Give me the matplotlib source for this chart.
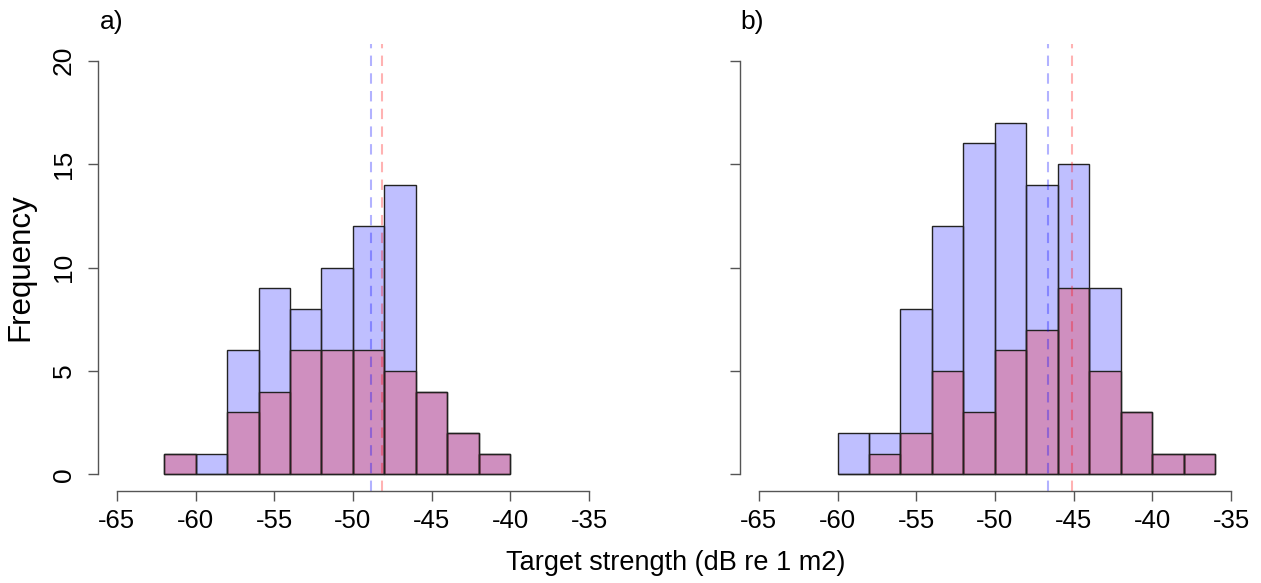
import numpy as np
import matplotlib.pyplot as plt

plt.rcParams['font.family'] = ['Liberation Sans', 'DejaVu Sans']

# bin edges (dB) and counts for each panel
edges_a = np.arange(-62, -38, 2)
blue_a = [1, 1, 6, 9, 8, 10, 12, 14, 4, 2, 1]
red_a = [1, 0, 3, 4, 6, 6, 6, 5, 4, 2, 1]
mean_blue_a = -48.85
mean_red_a = -48.15

edges_b = np.arange(-60, -34, 2)
blue_b = [2, 2, 8, 12, 16, 17, 14, 15, 9, 3, 1, 1]
red_b = [0, 1, 2, 5, 3, 6, 7, 9, 5, 3, 1, 1]
mean_blue_b = -46.65
mean_red_b = -45.1

xticks = [-65, -60, -55, -50, -45, -40, -35]
yticks = [0, 5, 10, 15, 20]

BLUE = (0, 0, 1, 0.25)
RED = (1, 0, 0, 0.25)
AXIS_COL = '#555555'

fig = plt.figure(figsize=(12.61, 5.83), dpi=100)
ax_a = fig.add_axes([0.0777, 0.1578, 0.4044, 0.7667])
ax_b = fig.add_axes([0.5868, 0.1578, 0.4044, 0.7667])


def draw_panel(ax, edges, blue, red, m_blue, m_red, show_ylabels):
    widths = np.diff(edges)
    ax.bar(edges[:-1], blue, width=widths, align='edge', color=BLUE,
           edgecolor='#222222', linewidth=1)
    ax.bar(edges[:-1], red, width=widths, align='edge', color=RED,
           edgecolor='#222222', linewidth=1)
    ax.axvline(m_blue, color=(0, 0, 1, 0.3), lw=1.5, dashes=(5, 3.5))
    ax.axvline(m_red, color=(1, 0, 0, 0.3), lw=1.5, dashes=(5, 3.5))

    ax.set_xlim(-66.2, -33.8)
    ax.set_ylim(-0.8, 20.8)
    ax.set_xticks(xticks)
    ax.set_yticks(yticks)
    ax.set_xticklabels([str(t) for t in xticks], fontsize=18.5)
    if show_ylabels:
        ax.set_yticklabels([str(t) for t in yticks], fontsize=19,
                           rotation=90, va='center')
    else:
        ax.set_yticklabels([])
    for side in ('top', 'right'):
        ax.spines[side].set_visible(False)
    ax.spines['left'].set_bounds(0, 20)
    ax.spines['bottom'].set_bounds(-65, -35)
    for side in ('left', 'bottom'):
        ax.spines[side].set_color(AXIS_COL)
        ax.spines[side].set_linewidth(1)
    ax.tick_params(length=7, width=1, color=AXIS_COL, pad=6)
    ax.tick_params(axis='y', pad=9)
    ax.patch.set_alpha(0)


draw_panel(ax_a, edges_a, blue_a, red_a, mean_blue_a, mean_red_a, True)
draw_panel(ax_b, edges_b, blue_b, red_b, mean_blue_b, mean_red_b, False)

ax_a.set_ylabel('Frequency', fontsize=22.5, labelpad=12)
fig.text(0.536, 0.034, 'Target strength (dB re 1 m2)', fontsize=19.5,
         ha='center', va='center')
fig.text(0.079, 0.962, 'a)', fontsize=19, ha='left', va='center')
fig.text(0.587, 0.962, 'b)', fontsize=19, ha='left', va='center')

fig.savefig('out.png', dpi=100)
